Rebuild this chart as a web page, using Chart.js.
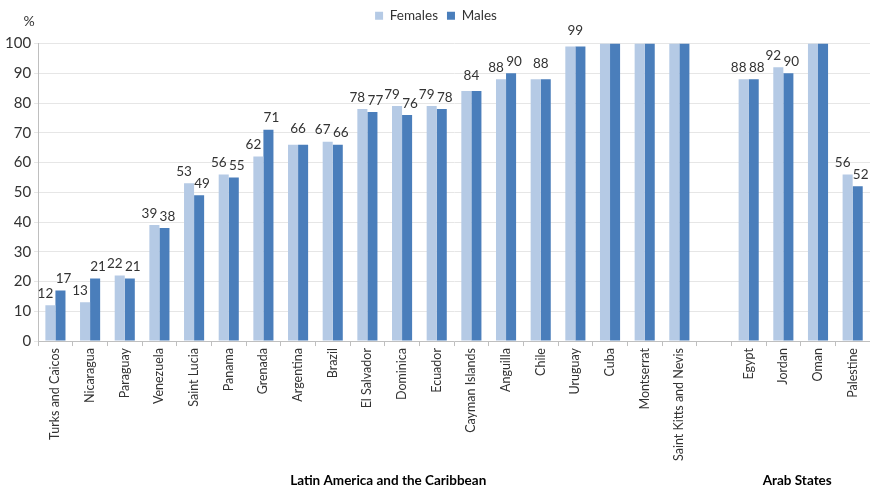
<!DOCTYPE html>
<html>
<head>
<meta charset="utf-8">
<script src="https://cdn.jsdelivr.net/npm/chart.js@4/dist/chart.umd.min.js"></script>
<style>
  html, body { margin: 0; padding: 0; background: #fff; }
  canvas { display: block; }
</style>
</head>
<body>
<canvas id="myChart" width="870" height="491"></canvas>
<script>
const categories = [
    "Turks and Caicos", "Nicaragua", "Paraguay", "Venezuela", "Saint Lucia",
    "Panama", "Grenada", "Argentina", "Brazil", "El Salvador", "Dominica",
    "Ecuador", "Cayman Islands", "Anguilla", "Chile", "Uruguay", "Cuba",
    "Montserrat", "Saint Kitts and Nevis", "",
    "Egypt", "Jordan", "Oman", "Palestine",
];

const females = [12, 13, 22, 39, 53, 56, 62, 66, 67, 78, 79, 79, 84, 88, 88, 99, 100, 100, 100, null, 88, 92, 100, 56];
const males   = [17, 21, 21, 38, 49, 55, 71, 66, 66, 77, 76, 78, 84, 90, 88, 99, 100, 100, 100, null, 88, 90, 100, 52];

// how the value labels sit: "pair" = one per bar, "one" = single label over both, "" = none
const labelMode = [
    "pair", "pair", "pair", "pair", "pair", "pair", "pair", "one", "pair", "pair",
    "pair", "pair", "one", "pair", "one", "one", "", "", "", "",
    "pair", "pair", "", "pair",
];

const regions = [
    { name: "Latin America and the Caribbean", center: 9.6 },
    { name: "Arab States", center: 21.4 },
];

const yTicks = [0, 10, 20, 30, 40, 50, 60, 70, 80, 90, 100];

const FONT = "Lato, 'Open Sans', sans-serif";
const TEXT = "#333333";

// push the plot down under the legend without moving the legend itself
const legendGap = {
    id: 'legendGap',
    beforeInit(chart) {
        const fit = chart.legend.fit;
        chart.legend.fit = function () {
            fit.bind(chart.legend)();
            this.height += 11;
        };
    }
};

const valueLabels = {
    id: 'valueLabels',
    afterDatasetsDraw(chart) {
        const ctx = chart.ctx;
        const y = chart.scales.y;
        const f = chart.getDatasetMeta(0).data;
        const m = chart.getDatasetMeta(1).data;
        ctx.save();
        ctx.font = "13.5px " + FONT;
        ctx.fillStyle = TEXT;
        ctx.textAlign = 'center';
        ctx.textBaseline = 'bottom';
        labelMode.forEach((mode, i) => {
            if (mode === "pair") {
                ctx.fillText(String(females[i]), f[i].x - 5, y.getPixelForValue(females[i]) - 5);
                ctx.fillText(String(males[i]), m[i].x + 3, y.getPixelForValue(males[i]) - 5);
            } else if (mode === "one") {
                const top = Math.max(females[i], males[i]);
                ctx.fillText(String(females[i]), (f[i].x + m[i].x) / 2, y.getPixelForValue(top) - 9);
            }
        });
        ctx.restore();
    }
};

const extraText = {
    id: 'extraText',
    afterDraw(chart) {
        const ctx = chart.ctx;
        const x = chart.scales.x;
        const y = chart.scales.y;
        ctx.save();
        ctx.fillStyle = TEXT;
        ctx.font = "14px " + FONT;
        ctx.textAlign = 'center';
        ctx.textBaseline = 'middle';
        ctx.fillText("%", y.right - 9, 21);
        ctx.font = "bold 13.5px " + FONT;
        ctx.fillStyle = "#000";
        regions.forEach(r => {
            ctx.fillText(r.name, x.getPixelForValue(r.center), 481);
        });
        ctx.restore();
    }
};

const myChart = new Chart('myChart', {
    type: 'bar',
    data: {
        labels: categories,
        datasets: [
            {
                label: 'Females',
                data: females,
                backgroundColor: '#b5cae5',
                borderWidth: 0,
            },
            {
                label: 'Males',
                data: males,
                backgroundColor: '#4a7ebb',
                borderWidth: 0,
            },
        ]
    },
    options: {
        responsive: false,
        animation: false,
        layout: {
            padding: { left: 2, right: 0, top: 0, bottom: 28 }
        },
        datasets: {
            bar: {
                categoryPercentage: 0.58,
                barPercentage: 1.0,
            }
        },
        plugins: {
            legend: {
                position: 'top',
                labels: {
                    boxWidth: 8,
                    boxHeight: 8,
                    padding: 9,
                    color: TEXT,
                    font: { family: FONT, size: 13.5 }
                }
            },
            tooltip: { enabled: false }
        },
        scales: {
            x: {
                grid: {
                    display: true,
                    offset: true,
                    drawOnChartArea: false,
                    drawTicks: true,
                    tickLength: 5,
                    color: '#bfbfbf',
                },
                border: { color: '#bfbfbf' },
                ticks: {
                    minRotation: 90,
                    maxRotation: 90,
                    autoSkip: false,
                    padding: 2,
                    color: TEXT,
                    font: { family: FONT, size: 12.5 }
                }
            },
            y: {
                min: 0,
                max: 100,
                afterBuildTicks(axis) {
                    axis.ticks = yTicks.map(v => ({ value: v }));
                },
                grid: {
                    color: '#e6e6e6',
                    tickLength: 4,
                },
                border: { color: '#bfbfbf' },
                ticks: {
                    padding: 3,
                    color: TEXT,
                    font: { family: FONT, size: 15 }
                }
            }
        }
    },
    plugins: [legendGap, valueLabels, extraText]
});
</script>
</body>
</html>
